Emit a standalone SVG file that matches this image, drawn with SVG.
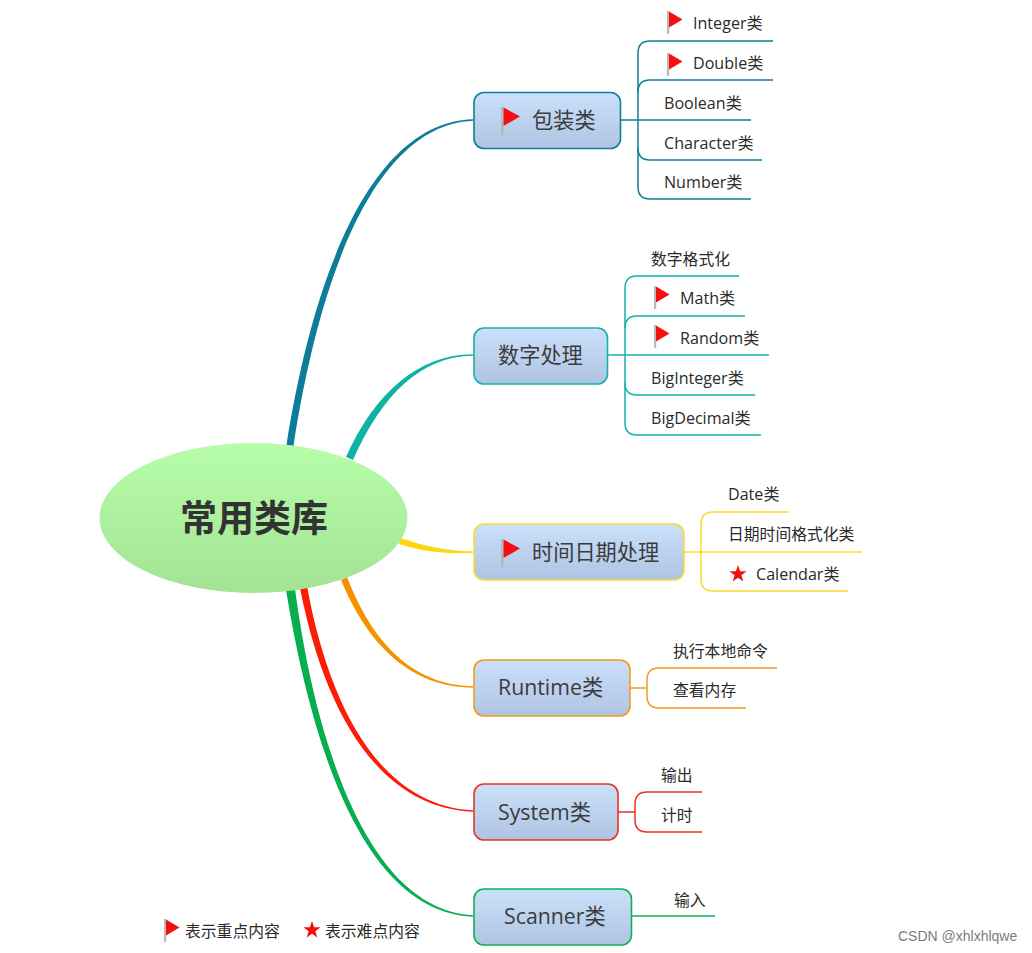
<svg xmlns="http://www.w3.org/2000/svg" width="1032" height="953" viewBox="0 0 1032 953">
<style>
text{font-family:"Open Sans","Noto Sans CJK SC","Noto Sans",sans-serif;fill:#333}
.n{font-size:21.300px;fill:#3c3c3c}
.nz{font-size:21.200px;fill:#3c3c3c}
.l{font-size:16.100px;fill:#2a2a2a}
.z{font-size:15.800px;fill:#2a2a2a}
.b{fill:none;stroke-width:1.5}
.box{stroke-width:1.6}
.c1{stroke:#0f7f9c}.c2{stroke:#13b3a8}.c3{stroke:#fbdc2c}.c4{stroke:#f39a1e}.c5{stroke:#ea3322}.c6{stroke:#0fb058}
</style>
<defs>
<linearGradient id="g" x1="0" y1="0" x2="0" y2="1"><stop offset="0" stop-color="#cbe0fa"/><stop offset="1" stop-color="#afc4e2"/></linearGradient>
<linearGradient id="r" x1="0" y1="0" x2="0" y2="1"><stop offset="0" stop-color="#b7fdaa"/><stop offset="1" stop-color="#a3e393"/></linearGradient>
<g id="flag"><rect x="0" y="0" width="2.200" height="23" fill="#b9b9b9"/><path d="M2 .5 L15.500 8.500 L2 16.500 Z" fill="#f40f10"/></g>
<g id="flagL"><rect x="0" y="0" width="2.600" height="28" fill="#b9b9b9"/><path d="M2.500 .5 L19 9.500 L2.500 19 Z" fill="#f40f10"/></g>
<path id="star" d="M9 0 L11.100 6.200 L17.600 6.200 L12.400 10.200 L14.300 16.600 L9 12.800 L3.700 16.600 L5.600 10.200 L.4 6.200 L6.900 6.200 Z" fill="#f40f10"/>
</defs>
<rect width="1032" height="953" fill="#fff"/>
<g id="connectors">
<path d="M286.500,445 C315,265 375,122 473,119.300 L473,120.700 C378,125 321,267 293.500,446 Z" fill="#0f7c99"/>
<path d="M346,457 C375,392 420,354 473,354.300 L473,355.700 C422,356 382,394 353,460 Z" fill="#0fb3a4"/>
<path d="M400,538 C425,546 445,551 473,551.300 L473,552.700 C445,554 425,552 399,544 Z" fill="#fdd60f"/>
<path d="M341,580 C368,645 410,687 473,687.700 L473,686.300 C412,685 372,642 347,577 Z" fill="#f69200"/>
<path d="M300,588 C325,715 380,808 473,811.700 L473,810.300 C383,806 330,712 307,586 Z" fill="#fb1d05"/>
<path d="M286,590 C312,750 365,912 473,916.700 L473,915.300 C370,910 316,748 295,589 Z" fill="#07ae50"/>
<g class="b c1"><path d="M620,120H751"/><path d="M773,41H650Q638,41 638,53V187Q638,199 650,199H751"/><path d="M773,80H650Q638,80 638,92"/><path d="M638,148Q638,160 650,160H762"/></g>
<g class="b c2"><path d="M607,355H769"/><path d="M739,276H637Q625,276 625,288V423Q625,435 637,435H761"/><path d="M745,316H637Q625,316 625,328"/><path d="M625,383Q625,395 637,395H755"/></g>
<g class="b c3"><path d="M684,552H862"/><path d="M789,512H713Q701,512 701,524V579Q701,591 713,591H848"/></g>
<g class="b c4"><path d="M630,688H647"/><path d="M777,668H659Q647,668 647,680V696Q647,708 659,708H746"/></g>
<g class="b c5"><path d="M618,812H635"/><path d="M702,792H647Q635,792 635,804V820Q635,832 647,832H702"/></g>
<g class="b c6"><path d="M632,916H715"/></g>
</g>
<g id="root"><ellipse cx="253.500" cy="518" rx="154" ry="75" fill="url(#r)"/><text x="254" y="532" text-anchor="middle" font-size="37px" font-weight="700">常用类库</text></g>
<g id="n1"><rect class="box c1" x="474" y="92.500" width="146.500" height="56" rx="10" fill="url(#g)"/><use href="#flagL" x="501" y="107"/><text class="nz" x="532" y="128">包装类</text></g>
<g id="n2"><rect class="box c2" x="474" y="328" width="133.500" height="56" rx="10" fill="url(#g)"/><text class="nz" x="498" y="363">数字处理</text></g>
<g id="n3"><rect class="box c3" x="474" y="524" width="210" height="56" rx="10" fill="url(#g)"/><use href="#flagL" x="501" y="539"/><text class="nz" x="532" y="560">时间日期处理</text></g>
<g id="n4"><rect class="box c4" x="474" y="660" width="156" height="56" rx="10" fill="url(#g)"/><text class="n" x="498" y="695">Runtime类</text></g>
<g id="n5"><rect class="box c5" x="474" y="784" width="144" height="56" rx="10" fill="url(#g)"/><text class="n" x="498" y="820">System类</text></g>
<g id="n6"><rect class="box c6" x="474" y="889" width="157.500" height="56" rx="10" fill="url(#g)"/><text class="n" x="504" y="924">Scanner类</text></g>
<g id="l11"><use href="#flag" x="667" y="11"/><text class="l" x="693" y="29">Integer类</text></g>
<g id="l12"><use href="#flag" x="667" y="53"/><text class="l" x="693" y="69">Double类</text></g>
<g id="l13"><text class="l" x="664" y="109">Boolean类</text></g>
<g id="l14"><text class="l" x="664" y="148.500">Character类</text></g>
<g id="l15"><text class="l" x="664" y="188">Number类</text></g>
<g id="l21"><text class="z" x="651" y="265">数字格式化</text></g>
<g id="l22"><use href="#flag" x="654" y="286"/><text class="l" x="680" y="304">Math类</text></g>
<g id="l23"><use href="#flag" x="654" y="325"/><text class="l" x="680" y="344">Random类</text></g>
<g id="l24"><text class="l" x="651" y="384">BigInteger类</text></g>
<g id="l25"><text class="l" x="651" y="423.500">BigDecimal类</text></g>
<g id="l31"><text class="l" x="728" y="500">Date类</text></g>
<g id="l32"><text class="z" x="728" y="540">日期时间格式化类</text></g>
<g id="l33"><use href="#star" x="729" y="565"/><text class="l" x="756" y="579.500">Calendar类</text></g>
<g id="l41"><text class="z" x="673" y="656.500">执行本地命令</text></g>
<g id="l42"><text class="z" x="673" y="696">查看内存</text></g>
<g id="l51"><text class="z" x="661" y="781">输出</text></g>
<g id="l52"><text class="z" x="661" y="821">计时</text></g>
<g id="l61"><text class="z" x="674" y="905.500">输入</text></g>
<g id="legend"><use href="#flag" x="164" y="919"/><text class="z" x="185" y="936.500">表示重点内容</text><use href="#star" x="303" y="921"/><text class="z" x="325" y="936.500">表示难点内容</text></g>
<text x="898" y="941" font-size="14px" style="font-family:'Liberation Sans','Noto Sans',sans-serif;fill:#7c7c7c">CSDN @xhlxhlqwe</text>
</svg>
